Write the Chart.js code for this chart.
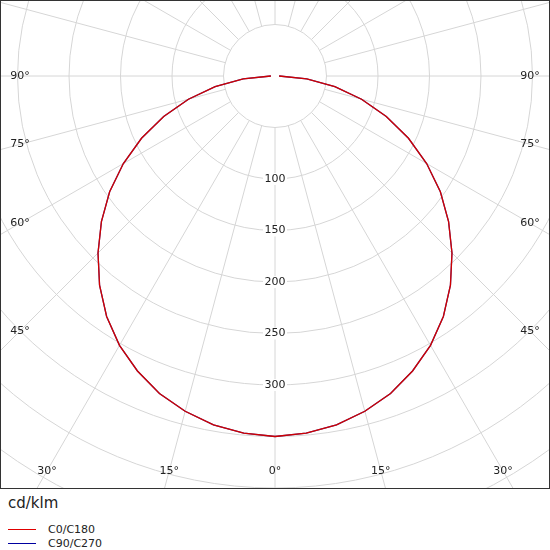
<!DOCTYPE html>
<html>
<head>
<meta charset="utf-8">
<script src="https://cdn.jsdelivr.net/npm/chart.js@4"></script>
<style>
  body { margin: 0; background: #fff; font-family: "DejaVu Sans", sans-serif; }
  #wrap { position: relative; width: 550px; height: 489px; }
  .unit { font-size: 15px; color: #222; margin: 5px 0 0 8px; }
  .leg { font-size: 11px; color: #222; margin-left: 8px; height: 14px; display: flex; align-items: center; }
  .leg span { display: inline-block; width: 28px; height: 1px; margin-right: 12px; }
</style>
</head>
<body>
<div id="wrap"><canvas id="c" width="550" height="489"></canvas></div>
<div class="unit">cd/klm</div>
<div class="leg" style="margin-top:10px"><span style="background:#e00000"></span>C0/C180</div>
<div class="leg"><span style="background:#0000a0"></span>C90/C270</div>
<script>
/* ---------- data (cd/klm per gamma angle) ---------- */
const angles = [0, 5, 10, 15, 20, 25, 30, 35, 40, 45, 50, 55, 60, 65, 70, 75, 80, 85, 90];
const c0c180 = [350, 348, 344, 337, 328, 316, 302, 285, 265, 243, 220, 196, 170, 143, 115, 87, 59, 31, 4];
const c90c270 = [350, 348, 344, 337, 328, 316, 302, 285, 265, 243, 220, 196, 170, 143, 115, 87, 59, 31, 4];
const ringLabels = [100, 150, 200, 250, 300];
const angleLabels = [0, 15, 30, 45, 60, 75, 90];

const PX = 1.03; // px per cd/klm

// full curve: left half then right half, polar -> cartesian
function toPoints(vals) {
  const pts = [];
  for (let i = vals.length - 1; i >= 0; i--) {
    const a = angles[i] * Math.PI / 180;
    pts.push({ x: -vals[i] * Math.sin(a), y: -vals[i] * Math.cos(a) });
  }
  for (let i = 1; i < vals.length; i++) {
    const a = angles[i] * Math.PI / 180;
    pts.push({ x: vals[i] * Math.sin(a), y: -vals[i] * Math.cos(a) });
  }
  return pts;
}

const polarGrid = {
  id: 'polarGrid',
  beforeDatasetsDraw(chart) {
    const { ctx, chartArea: ca, scales: { x, y } } = chart;
    const cx = x.getPixelForValue(0), cy = y.getPixelForValue(0);
    const k = x.getPixelForValue(1) - cx;
    ctx.save();
    ctx.beginPath(); ctx.rect(ca.left, ca.top, ca.right - ca.left, ca.bottom - ca.top); ctx.clip();
    ctx.strokeStyle = '#d6d6d6'; ctx.lineWidth = 1;
    for (let r = 50; r <= 800; r += 50) {
      ctx.beginPath(); ctx.arc(cx, cy, r * k, 0, Math.PI * 2); ctx.stroke();
    }
    for (let d = 0; d < 360; d += 15) {
      const a = d * Math.PI / 180;
      ctx.beginPath();
      ctx.moveTo(cx + 50 * k * Math.sin(a), cy + 50 * k * Math.cos(a));
      ctx.lineTo(cx + 900 * k * Math.sin(a), cy + 900 * k * Math.cos(a));
      ctx.stroke();
    }
    ctx.font = '11px "DejaVu Sans"';
    ctx.textAlign = 'center'; ctx.textBaseline = 'middle';
    ringLabels.forEach(v => {
      const py = y.getPixelForValue(-v);
      ctx.fillStyle = '#fff'; ctx.fillRect(cx - 12, py - 6, 24, 12);
      ctx.fillStyle = '#222'; ctx.fillText(String(v), cx, py);
    });
    const bottomY = ca.bottom - 18, sideX = 20;
    angleLabels.forEach(d => {
      const a = d * Math.PI / 180;
      ctx.fillStyle = '#222';
      const dxb = (bottomY - cy) * Math.tan(a);
      if (d < 45) {
        ctx.fillText(d + '°', cx - dxb, bottomY);
        if (d > 0) ctx.fillText(d + '°', cx + dxb, bottomY);
      } else {
        const py = cy + (cx - sideX) / Math.tan(a);
        ctx.fillText(d + '°', sideX, py);
        ctx.fillText(d + '°', ca.right - sideX, py);
      }
    });
    ctx.restore();
    ctx.strokeStyle = '#333'; ctx.lineWidth = 1;
    ctx.strokeRect(ca.left + 0.5, ca.top + 0.5, ca.right - ca.left - 1, ca.bottom - ca.top - 1);
  }
};

new Chart(document.getElementById('c'), {
  type: 'scatter',
  data: {
    datasets: [
      { label: 'C0/C180', data: toPoints(c0c180), showLine: true, borderColor: '#d00000', borderWidth: 1.3, pointRadius: 0 },
      { label: 'C90/C270', data: toPoints(c90c270), showLine: true, borderColor: 'rgba(0,0,140,0.75)', borderWidth: 1.3, pointRadius: 0 }
    ]
  },
  options: {
    responsive: false, animation: false,
    layout: { padding: 0 },
    plugins: { legend: { display: false }, tooltip: { enabled: false } },
    scales: {
      x: { type: 'linear', display: false, min: -275 / PX, max: 275 / PX },
      y: { type: 'linear', display: false, min: -413 / PX, max: 76 / PX }
    }
  },
  plugins: [polarGrid]
});
</script>
</body>
</html>
